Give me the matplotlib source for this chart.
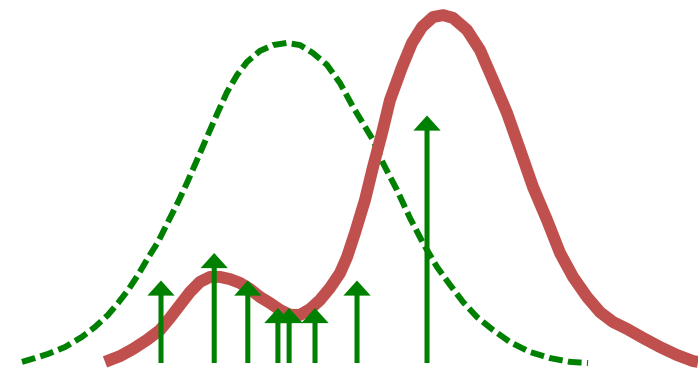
import matplotlib
matplotlib.use("Agg")
import matplotlib.pyplot as plt

# sample positions and their weights (arrows)
sample_x = [2.30, 3.06, 3.54, 3.97, 4.13, 4.50, 5.10, 6.10]
sample_w = [3, 4, 3, 2, 2, 2, 3, 9]

# weighted density estimate (red)
kde_x = [1.500, 1.714, 1.900, 2.100, 2.286, 2.429, 2.571, 2.714, 2.857, 3.000,
         3.143, 3.286, 3.429, 3.571, 3.714, 3.857, 4.000, 4.143, 4.286, 4.429,
         4.571, 4.714, 4.857, 4.957, 5.071, 5.214, 5.329, 5.457, 5.571, 5.743,
         5.886, 6.029, 6.186, 6.329, 6.471, 6.671, 6.857, 7.043, 7.243, 7.429,
         7.614, 7.814, 8.000, 8.186, 8.386, 8.571, 8.757, 8.957, 9.186, 9.429,
         9.671, 9.900, 9.971]
kde_y = [0.04, 0.25, 0.51, 0.84, 1.20, 1.64, 2.11, 2.58, 2.95, 3.13,
         3.13, 3.05, 2.91, 2.69, 2.40, 2.18, 1.93, 1.75, 1.75, 1.96,
         2.29, 2.73, 3.27, 3.85, 4.73, 5.93, 7.13, 8.36, 9.56, 10.76,
         11.64, 12.22, 12.58, 12.65, 12.55, 12.11, 11.38, 10.29, 9.09, 7.75,
         6.40, 5.20, 4.00, 3.13, 2.40, 1.85, 1.49, 1.24, 0.91, 0.58,
         0.29, 0.07, 0.04]

# single gaussian fit (green dashed)
fit_x = [0.314, 0.500, 0.686, 0.929, 1.171, 1.357, 1.543, 1.686, 1.829, 1.971,
         2.114, 2.257, 2.400, 2.543, 2.671, 2.814, 2.957, 3.100, 3.243, 3.386,
         3.529, 3.714, 3.900, 4.100, 4.286, 4.471, 4.671, 4.857, 5.043, 5.243,
         5.329, 5.471, 5.671, 5.857, 6.043, 6.243, 6.429, 6.614, 6.814, 7.043,
         7.286, 7.571, 7.857, 8.143, 8.400]
fit_y = [0.04, 0.18, 0.33, 0.58, 0.95, 1.31, 1.75, 2.18, 2.65, 3.20,
         3.82, 4.40, 5.13, 5.85, 6.55, 7.38, 8.22, 9.05, 9.85, 10.47,
         10.95, 11.35, 11.56, 11.64, 11.56, 11.27, 10.84, 10.18, 9.31, 8.47,
         8.11, 7.27, 6.29, 5.27, 4.36, 3.49, 2.84, 2.22, 1.67, 1.20,
         0.76, 0.40, 0.18, 0.04, 0.00]

fig = plt.figure(figsize=(6.98, 3.70), dpi=100)
ax = fig.add_axes([0, 0, 1, 1])

ax.plot(fit_x, fit_y, color='green', lw=4.3, linestyle=(0, (2.3, 0.9)),
        dash_capstyle='butt', dash_joinstyle='round', zorder=2)
ax.plot(kde_x, kde_y, color='#c0504d', lw=8.6, solid_capstyle='butt',
        solid_joinstyle='round', zorder=3)

for x, w in zip(sample_x, sample_w):
    ax.arrow(x, 0, 0, w, width=0.072, head_width=0.39, head_length=0.55,
             length_includes_head=True, color='green', lw=0, zorder=4)

ax.set_xlim(0, 9.971)
ax.set_ylim(-0.2545, 13.2)
ax.axis('off')

fig.savefig('out.png', dpi=100)
